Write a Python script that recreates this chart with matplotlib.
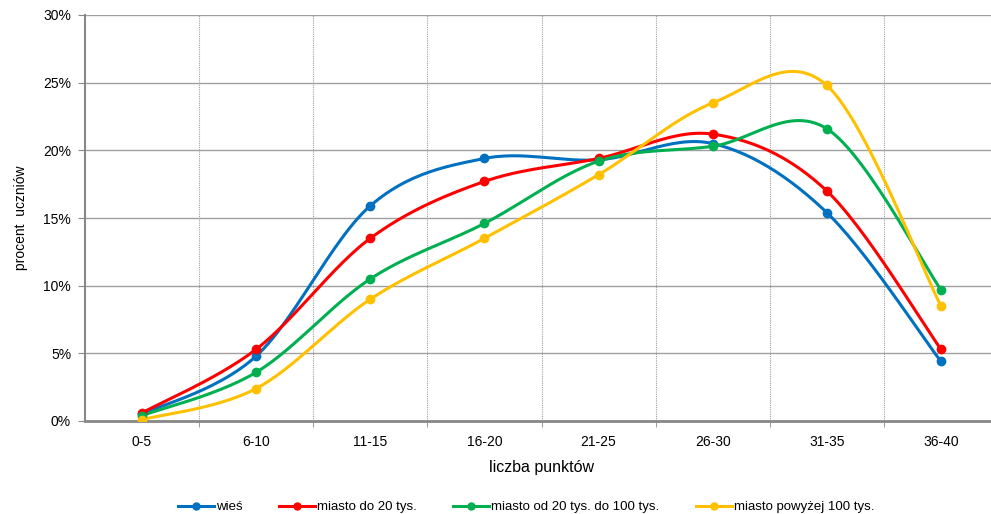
import numpy as np
import matplotlib
matplotlib.use("Agg")
import matplotlib.pyplot as plt
from matplotlib.ticker import FixedLocator, PercentFormatter

plt.rcParams['font.family'] = ['Liberation Sans', 'DejaVu Sans']

# dane
kategorie = ["0-5", "6-10", "11-15", "16-20", "21-25", "26-30", "31-35", "36-40"]
wies = [0.5, 4.8, 15.9, 19.4, 19.3, 20.5, 15.4, 4.4]
miasto_20 = [0.6, 5.3, 13.5, 17.7, 19.4, 21.2, 17.0, 5.3]
miasto_20_100 = [0.4, 3.6, 10.5, 14.6, 19.2, 20.3, 21.6, 9.7]
miasto_100 = [0.1, 2.4, 9.0, 13.5, 18.2, 23.5, 24.8, 8.5]
etykiety = ["wieś", "miasto do 20 tys.", "miasto od 20 tys. do 100 tys.", "miasto powyżej 100 tys."]
kolory = ["#0070C0", "#FF0000", "#00B050", "#FFC000"]


def wygladz(x, y, n=30):
    # krzywa Beziera w stylu Excela (Catmull-Rom)
    x = np.asarray(x, float)
    y = np.asarray(y, float)
    px = np.concatenate([[x[0]], x, [x[-1]]])
    py = np.concatenate([[y[0]], y, [y[-1]]])
    xs, ys = [], []
    t = np.linspace(0, 1, n)
    for i in range(len(x) - 1):
        p0 = np.array([px[i + 1], py[i + 1]])
        p3 = np.array([px[i + 2], py[i + 2]])
        p1 = p0 + (np.array([px[i + 2], py[i + 2]]) - np.array([px[i], py[i]])) / 6
        p2 = p3 - (np.array([px[i + 3], py[i + 3]]) - np.array([px[i + 1], py[i + 1]])) / 6
        b = ((1 - t) ** 3)[:, None] * p0 + (3 * (1 - t) ** 2 * t)[:, None] * p1 \
            + (3 * (1 - t) * t ** 2)[:, None] * p2 + (t ** 3)[:, None] * p3
        xs.extend(b[:, 0])
        ys.extend(b[:, 1])
    return np.array(xs), np.array(ys)


fig = plt.figure(figsize=(9.91, 5.14), dpi=100)
ax = fig.add_axes([85 / 991, 1 - 421 / 514, 913 / 991, 406 / 514])

x = np.arange(len(kategorie))
for seria, kolor, etyk in zip([wies, miasto_20, miasto_20_100, miasto_100], kolory, etykiety):
    sx, sy = wygladz(x, seria)
    ax.plot(sx, sy, color=kolor, lw=2.2, zorder=3)
    ax.plot(x, seria, "o", color=kolor, ms=6, zorder=4)
    ax.plot([], [], color=kolor, lw=2.2, marker="o", ms=5, label=etyk)

ax.set_xlim(-0.5, len(kategorie) - 0.5)
ax.set_ylim(0, 30)
ax.set_xticks(x)
ax.set_xticklabels(kategorie, fontsize=10)
ax.xaxis.set_minor_locator(FixedLocator(np.arange(0.5, len(kategorie) - 0.5, 1)))
ax.tick_params(axis="x", which="major", length=0, pad=10)
ax.tick_params(axis="x", which="minor", length=4, color="#888888")
ax.set_yticks(np.arange(0, 31, 5))
ax.yaxis.set_major_formatter(PercentFormatter(decimals=0))
ax.tick_params(axis="y", length=5, color="#888888", labelsize=10, pad=5)

ax.grid(axis="y", color="#a0a0a0", lw=1)
ax.grid(axis="x", which="minor", color="#a0a0a0", lw=0.8, ls=(0, (1, 1)))
ax.set_axisbelow(True)
for s in ["top", "right"]:
    ax.spines[s].set_visible(False)
ax.spines["left"].set_color("#888888")
ax.spines["left"].set_linewidth(1.5)
ax.spines["bottom"].set_color("#888888")
ax.spines["bottom"].set_linewidth(2)

ax.set_ylabel("procent  uczniów", fontsize=10, labelpad=11)
ax.set_xlabel("liczba punktów", fontsize=11.5, labelpad=8)

fig.legend(loc="center", bbox_to_anchor=(526 / 991, 1 - 507 / 514), ncol=4, frameon=False,
           fontsize=9.5, columnspacing=2.8, handlelength=2.7, handletextpad=0.15)

fig.savefig("out.png", dpi=100)
